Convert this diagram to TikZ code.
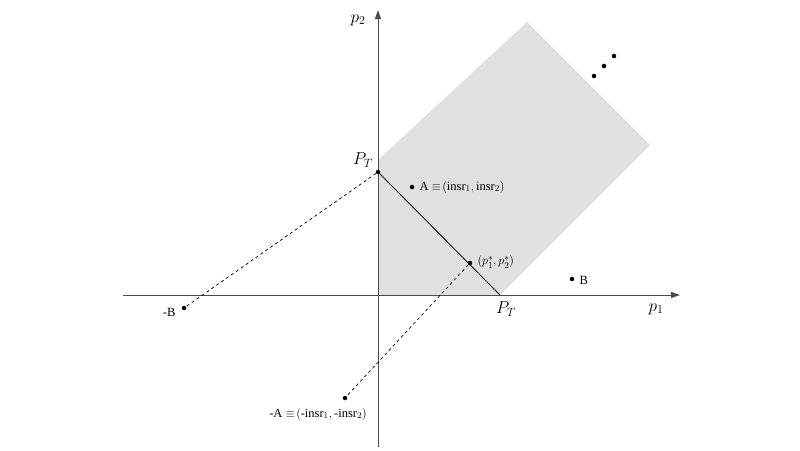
\documentclass[tikz,border=0pt]{standalone}
\usepackage{fontspec}
\setmainfont{Liberation Serif}
\usetikzlibrary{arrows.meta}
\begin{document}
\begin{tikzpicture}[x=1pt,y=-1pt,
  ax/.style={draw=black!70,line width=1pt,-{Triangle[length=9pt,width=6pt]}},
  dot/.style={circle,fill=black,inner sep=1.6pt},
  lbl/.style={font=\fontsize{12.5}{14}\selectfont},
  big/.style={font=\fontsize{17}{19}\selectfont}]
\useasboundingbox (0,0) rectangle (800,450);
\fill[black!12] (378,160) -- (527,22) -- (650,145) -- (500,295) -- (378,295) -- cycle;
\draw[ax] (123,295) -- (680,295);
\draw[ax] (378,447) -- (378,10);
\node[dot] (pt2) at (378,172) {};
\node[dot] (ps) at (470,263) {};
\coordinate (pt1) at (500,295);
\node[dot] (a) at (412,187) {};
\node[dot] (b) at (572,279) {};
\node[dot] (mb) at (184,308) {};
\node[dot] (ma) at (345,398) {};
\node[dot] (e1) at (594,76) {};
\node[dot] (e2) at (604,66) {};
\node[dot] (e3) at (614,56) {};
\draw[line width=0.8pt] (pt2) -- (pt1);
\draw[dashed,line width=0.7pt] (pt2) -- (mb);
\draw[dashed,line width=0.7pt] (ps) -- (ma);
\node[big] (lp2) at (358,20) {$p_2$};
\node[big] (lp1) at (656,309) {$p_1$};
\node[big] (lpt2) at (363,160) {$P_T$};
\node[big] (lpt1) at (506,309) {$P_T$};
\node[lbl,anchor=west] (la) at (416,187) {A $\equiv\!\big(\mathrm{insr}_1,\mathrm{insr}_2\big)$};
\node[lbl,anchor=west] (lb) at (576,280) {B};
\node[lbl,anchor=east] (lmb) at (179,312) {-B};
\node[lbl,anchor=west] (lps) at (474,262) {$\big(p_1^*,p_2^*\big)$};
\node[lbl] (lma) at (318,414) {-A $\equiv\!\big(\mbox{-}\mathrm{insr}_1,\mbox{-}\mathrm{insr}_2\big)$};
\end{tikzpicture}
\end{document}
